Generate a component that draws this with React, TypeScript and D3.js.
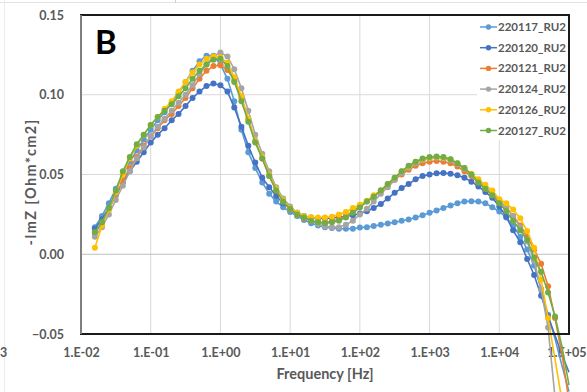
import * as d3 from "d3";
import { useEffect, useRef } from "react";

// measuring frequencies, low to high (10 points per decade)
const freqHz = [
  0.0158, 0.02, 0.0251, 0.0316, 0.0398, 0.0501, 0.0631, 0.0794,
  0.1, 0.126, 0.158, 0.2, 0.251, 0.316, 0.398, 0.501, 0.631, 0.794,
  1, 1.26, 1.58, 2, 2.51, 3.16, 3.98, 5.01, 6.31, 7.94,
  10, 12.6, 15.8, 20, 25.1, 31.6, 39.8, 50.1, 63.1, 79.4,
  100, 126, 158, 200, 251, 316, 398, 501, 631, 794,
  1000, 1260, 1580, 2000, 2510, 3160, 3980, 5010, 6310, 7940,
  10000, 12600, 15800, 20000, 25100, 31600, 39800, 50100, 63100, 79400,
  100000,
];

// -ImZ [Ohm*cm2] per run
const s220117 = [
  0.017, 0.024, 0.032, 0.041, 0.05, 0.058, 0.065, 0.072,
  0.078, 0.084, 0.089, 0.095, 0.101, 0.108, 0.115, 0.121, 0.1245, 0.1245,
  0.119, 0.11, 0.096, 0.078, 0.064, 0.054, 0.045, 0.038, 0.033, 0.0295,
  0.0265, 0.024, 0.0215, 0.0195, 0.018, 0.017, 0.0165, 0.016, 0.016, 0.016,
  0.0167, 0.017, 0.0177, 0.0185, 0.0193, 0.02, 0.021, 0.0218, 0.023, 0.0245,
  0.026, 0.0275, 0.029, 0.0305, 0.032, 0.033, 0.0333, 0.033, 0.032, 0.0295,
  0.0268, 0.023, 0.018, 0.011, 0.003, -0.007, -0.022, -0.038, -0.053, -0.07,
  -0.086,
];
const s220120 = [
  0.016, 0.022, 0.029, 0.037, 0.045, 0.052, 0.058, 0.064,
  0.07, 0.075, 0.079, 0.084, 0.088, 0.093, 0.098, 0.102, 0.1055, 0.107,
  0.106, 0.102, 0.092, 0.08, 0.068, 0.0575, 0.048, 0.042, 0.0365, 0.032,
  0.029, 0.026, 0.024, 0.023, 0.0225, 0.0225, 0.0228, 0.0232, 0.0238, 0.0245,
  0.0255, 0.027, 0.029, 0.0315, 0.035, 0.0385, 0.0415, 0.044, 0.047, 0.049,
  0.05, 0.0508, 0.051, 0.0505, 0.0495, 0.048, 0.0455, 0.0425, 0.039, 0.0355,
  0.03, 0.0235, 0.015, 0.0075, -0.003, -0.013, -0.026, -0.039, -0.051, -0.063,
  -0.074,
];
const s220121 = [
  0.013, 0.02, 0.028, 0.037, 0.046, 0.054, 0.061, 0.068,
  0.074, 0.079, 0.084, 0.088, 0.093, 0.098, 0.104, 0.11, 0.115, 0.118,
  0.1185, 0.1155, 0.109, 0.098, 0.085, 0.071, 0.06, 0.049, 0.04, 0.033,
  0.028, 0.025, 0.0225, 0.021, 0.02, 0.02, 0.0205, 0.022, 0.024, 0.027,
  0.03, 0.033, 0.036, 0.04, 0.043, 0.047, 0.05, 0.053, 0.0555, 0.057,
  0.058, 0.0585, 0.058, 0.057, 0.055, 0.052, 0.049, 0.045, 0.041, 0.037,
  0.033, 0.029, 0.024, 0.018, 0.011, 0.003, -0.006, -0.02, -0.04, -0.063,
  -0.092,
];
const s220124 = [
  0.011, 0.017, 0.025, 0.034, 0.043, 0.052, 0.06, 0.067,
  0.074, 0.08, 0.085, 0.09, 0.095, 0.1, 0.106, 0.113, 0.119, 0.124,
  0.1265, 0.124, 0.116, 0.104, 0.09, 0.075, 0.063, 0.052, 0.042, 0.035,
  0.03, 0.026, 0.0235, 0.021, 0.019, 0.0175, 0.017, 0.017, 0.0185, 0.021,
  0.025, 0.0285, 0.033, 0.038, 0.042, 0.0465, 0.051, 0.054, 0.057, 0.059,
  0.06, 0.0605, 0.06, 0.059, 0.0565, 0.0535, 0.05, 0.046, 0.042, 0.038,
  0.034, 0.029, 0.024, 0.017, 0.008, -0.004, -0.022, -0.046, -0.09, -0.14,
  -0.19,
];
const s220126 = [
  0.004, 0.018, 0.028, 0.039, 0.05, 0.06, 0.068, 0.075,
  0.081, 0.086, 0.091, 0.096, 0.102, 0.108, 0.114, 0.119, 0.1225, 0.124,
  0.1235, 0.12, 0.111, 0.099, 0.085, 0.071, 0.061, 0.05, 0.041, 0.034,
  0.029, 0.026, 0.024, 0.0232, 0.023, 0.023, 0.0235, 0.025, 0.0265, 0.029,
  0.031, 0.0335, 0.037, 0.04, 0.044, 0.048, 0.052, 0.055, 0.058, 0.0595,
  0.0605, 0.061, 0.0605, 0.0595, 0.057, 0.054, 0.0505, 0.047, 0.0435, 0.04,
  0.0345, 0.032, 0.028, 0.0225, 0.0145, 0.004, -0.016, -0.04, -0.066, -0.092,
  -0.118,
];
const s220127 = [
  0.014, 0.02, 0.029, 0.04, 0.052, 0.061, 0.069, 0.075,
  0.081, 0.086, 0.09, 0.094, 0.099, 0.104, 0.11, 0.115, 0.119, 0.122,
  0.1225, 0.118, 0.108, 0.096, 0.083, 0.07, 0.06, 0.049, 0.04, 0.033,
  0.0285, 0.025, 0.023, 0.021, 0.02, 0.0195, 0.02, 0.021, 0.023, 0.026,
  0.0293, 0.033, 0.036, 0.04, 0.044, 0.048, 0.052, 0.0555, 0.058, 0.06,
  0.061, 0.0613, 0.061, 0.0595, 0.057, 0.054, 0.05, 0.045, 0.041, 0.037,
  0.032, 0.027, 0.021, 0.015, 0.009, -0.002, -0.011, -0.024, -0.039, -0.058,
  -0.082,
];

const seriesNames = ["220117_RU2", "220120_RU2", "220121_RU2", "220124_RU2", "220126_RU2", "220127_RU2"];
const seriesValues = [s220117, s220120, s220121, s220124, s220126, s220127];
const seriesColors = ["#5B9BD5", "#4472C4", "#ED7D31", "#A5A5A5", "#FFC000", "#70AD47"];

const xTicks = [1e-2, 1e-1, 1e0, 1e1, 1e2, 1e3, 1e4, 1e5];
const xTickLabels = ["1.E-02", "1.E-01", "1.E+00", "1.E+01", "1.E+02", "1.E+03", "1.E+04", "1.E+05"];
const yTicks = [-0.05, 0, 0.05, 0.1, 0.15];

export default function App() {
  const ref = useRef<SVGSVGElement | null>(null);

  useEffect(() => {
    const width = 587;
    const height = 392;
    const left = 81;
    const right = 569;
    const top = 15;
    const bottom = 334;
    const font = "Lato, 'Open Sans', sans-serif";
    const textColor = "#595959";

    const svg = d3.select(ref.current);
    svg.selectAll("*").remove();
    svg.attr("width", width).attr("height", height);

    svg.append("rect").attr("width", width).attr("height", height).attr("fill", "#fff");

    // spreadsheet cell lines behind the chart
    svg.append("line").attr("x1", 0).attr("x2", width).attr("y1", 2.5).attr("y2", 2.5).attr("stroke", "#e3e3e3");
    svg.append("line").attr("x1", 175.5).attr("x2", 175.5).attr("y1", 0).attr("y2", 3).attr("stroke", "#d0d0d0");
    svg.append("line").attr("x1", 4.5).attr("x2", 4.5).attr("y1", 0).attr("y2", height).attr("stroke", "#ececec");

    const x = d3.scaleLog().domain([1e-2, 1e5]).range([left, right]);
    const y = d3.scaleLinear().domain([-0.05, 0.15]).range([bottom, top]);

    // ===== Grid =====
    const grid = svg.append("g");
    grid
      .selectAll("line.v")
      .data(xTicks.slice(1, -1))
      .enter()
      .append("line")
      .attr("x1", (d) => x(d))
      .attr("x2", (d) => x(d))
      .attr("y1", top)
      .attr("y2", bottom)
      .attr("stroke", "#d9d9d9")
      .attr("stroke-width", 1);
    grid
      .selectAll("line.h")
      .data(yTicks.slice(1, -1))
      .enter()
      .append("line")
      .attr("x1", left)
      .attr("x2", right)
      .attr("y1", (d) => y(d))
      .attr("y2", (d) => y(d))
      .attr("stroke", (d) => (d === 0 ? "#bfbfbf" : "#d9d9d9"))
      .attr("stroke-width", 1);

    // ===== Axes labels =====
    const xAxis = svg
      .append("g")
      .attr("transform", `translate(0,${bottom + 11})`)
      .call(
        d3
          .axisBottom(x)
          .tickValues(xTicks)
          .tickSize(0)
          .tickFormat((_, i) => xTickLabels[i]),
      );
    xAxis.select(".domain").remove();
    xAxis
      .selectAll("text")
      .style("font-family", font)
      .style("font-size", "12.5px")
      .style("font-weight", "bold")
      .attr("fill", textColor);
    // last label sits against the right edge of the picture
    xAxis
      .selectAll<SVGTextElement, number>("text")
      .filter((d) => d === 1e5)
      .attr("text-anchor", "end")
      .attr("x", width - 1 - x(1e5));

    const yAxis = svg
      .append("g")
      .attr("transform", `translate(${left - 14},0)`)
      .call(
        d3
          .axisLeft(y)
          .tickValues(yTicks)
          .tickSize(0)
          .tickFormat((d) => d3.format(".2f")(d as number)),
      );
    yAxis.select(".domain").remove();
    yAxis
      .selectAll("text")
      .style("font-family", font)
      .style("font-size", "12.5px")
      .style("font-weight", "bold")
      .attr("fill", textColor);

    svg
      .append("text")
      .attr("x", 325)
      .attr("y", 379)
      .attr("text-anchor", "middle")
      .style("font-family", font)
      .style("font-size", "14.5px")
      .style("font-weight", "bold")
      .attr("fill", textColor)
      .text("Frequency [Hz]");

    svg
      .append("text")
      .attr("transform", `translate(36,182) rotate(-90)`)
      .attr("text-anchor", "middle")
      .style("font-family", font)
      .style("font-size", "14.5px")
      .style("font-weight", "bold")
      .style("letter-spacing", "1.4px")
      .attr("fill", textColor)
      .text("-ImZ [Ohm*cm2]");

    // label of a neighbouring chart at the left border
    svg
      .append("text")
      .attr("x", 0)
      .attr("y", 357)
      .style("font-family", font)
      .style("font-size", "12.5px")
      .style("font-weight", "bold")
      .attr("fill", textColor)
      .text("3");

    // ===== Series =====
    const line = d3
      .line<number>()
      .x((_, i) => x(freqHz[i]))
      .y((d) => y(d));

    seriesValues.forEach((vals, k) => {
      const g = svg.append("g");
      g.append("path")
        .attr("d", line(vals))
        .attr("fill", "none")
        .attr("stroke", seriesColors[k])
        .attr("stroke-width", 1.6);
      g.selectAll("circle")
        .data(vals.map((v, i) => ({ v, f: freqHz[i] })).filter((d) => d.v >= -0.05))
        .enter()
        .append("circle")
        .attr("cx", (d) => x(d.f))
        .attr("cy", (d) => y(d.v))
        .attr("r", 3)
        .attr("fill", seriesColors[k]);
    });

    // ===== Frame =====
    svg
      .append("rect")
      .attr("x", left)
      .attr("y", top)
      .attr("width", right - left)
      .attr("height", bottom - top)
      .attr("fill", "none")
      .attr("stroke", "#1a1a1a")
      .attr("stroke-width", 2);
    svg
      .append("line")
      .attr("x1", left)
      .attr("x2", left)
      .attr("y1", top)
      .attr("y2", bottom)
      .attr("stroke", "#7f7f7f")
      .attr("stroke-width", 2);

    // ===== Panel letter =====
    svg
      .append("text")
      .attr("x", 95)
      .attr("y", 53.5)
      .style("font-family", font)
      .style("font-size", "33px")
      .style("font-weight", "bold")
      .attr("fill", "#000")
      .text("B");

    // ===== Legend =====
    const legend = svg.append("g");
    legend
      .append("rect")
      .attr("x", 477)
      .attr("y", 17)
      .attr("width", 90)
      .attr("height", 123)
      .attr("fill", "#fff");
    seriesNames.forEach((name, i) => {
      const ly = 27 + i * 20.7;
      legend
        .append("line")
        .attr("x1", 480)
        .attr("x2", 497)
        .attr("y1", ly)
        .attr("y2", ly)
        .attr("stroke", seriesColors[i])
        .attr("stroke-width", 1.5);
      legend.append("circle").attr("cx", 488.5).attr("cy", ly).attr("r", 2.7).attr("fill", seriesColors[i]);
      legend
        .append("text")
        .attr("x", 498)
        .attr("y", ly)
        .attr("dy", "0.35em")
        .style("font-family", font)
        .style("font-size", "11.5px")
        .style("font-weight", "bold")
        .attr("fill", textColor)
        .text(name);
    });
  }, []);

  return (
    <svg ref={ref} style={{ position: "absolute", left: 0, top: 0, display: "block" }}>
      <title>Impedance spectra, -ImZ vs frequency</title>
    </svg>
  );
}
